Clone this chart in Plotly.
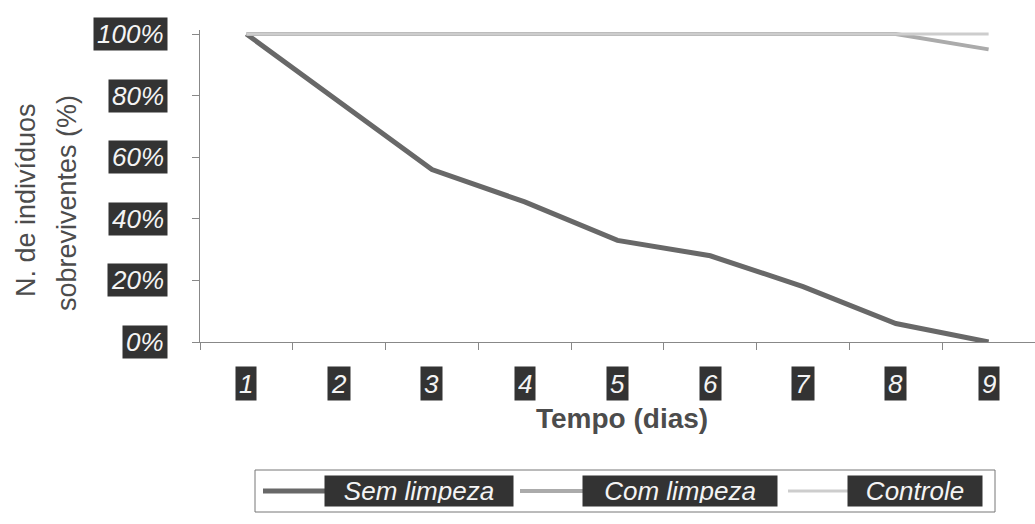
import plotly.graph_objects as go

# ---- data ----
days = ["1", "2", "3", "4", "5", "6", "7", "8", "9"]
sem_limpeza = [1.00, 0.78, 0.56, 0.455, 0.33, 0.28, 0.18, 0.06, 0.00]
com_limpeza = [1.00, 1.00, 1.00, 1.00, 1.00, 1.00, 1.00, 1.00, 0.95]
controle = [1.00, 1.00, 1.00, 1.00, 1.00, 1.00, 1.00, 1.00, 1.00]
series_names = ["Sem limpeza", "Com limpeza", "Controle"]
y_ticks = [0, 0.2, 0.4, 0.6, 0.8, 1.0]
y_tick_labels = ["0%", "20%", "40%", "60%", "80%", "100%"]

colors = ["#686868", "#ababab", "#cdcdcd"]
widths = [5, 4, 3]

W, H = 1035, 524
L, R, T, B = 200, 0, 30, 182
PW, PH = W - L - R, H - T - B


def xp(px):
    return (px - L) / PW


def yp(py):
    return (H - B - py) / PH


fig = go.Figure()
for name, vals, c, w in zip(series_names, [sem_limpeza, com_limpeza, controle], colors, widths):
    fig.add_trace(go.Scatter(x=days, y=vals, mode="lines", name=name,
                             line=dict(color=c, width=w), showlegend=False))

LABEL_FONT = "Liberation Sans, Arial, sans-serif"
box_bg = "#333333"

annotations = []
# x tick labels (dark boxes), placed at the category index on the x axis
for i, d in enumerate(days):
    annotations.append(dict(x=i, xref="x", y=0, yref="paper", yanchor="top", yshift=-24,
                            text=f"<i>{d}</i>", showarrow=False, bgcolor=box_bg, borderpad=3,
                            height=27, font=dict(family=LABEL_FONT, size=26, color="#f4f4f4")))
# y tick labels (dark boxes)
for v, lab in zip(y_ticks, y_tick_labels):
    annotations.append(dict(x=0, xref="paper", xanchor="right", xshift=-32, y=v, yref="y",
                            text=f"<i>{lab}</i>", showarrow=False, bgcolor=box_bg, borderpad=3,
                            height=26, font=dict(family=LABEL_FONT, size=26, color="#f4f4f4")))
# axis titles
annotations.append(dict(x=xp(26), xref="paper", y=yp(200), yref="paper", text="N. de indivíduos",
                        textangle=-90, showarrow=False, xanchor="center", yanchor="middle",
                        font=dict(family=LABEL_FONT, size=27, color="#4c4c4c")))
annotations.append(dict(x=xp(67), xref="paper", y=yp(203), yref="paper", text="sobreviventes (%)",
                        textangle=-90, showarrow=False, xanchor="center", yanchor="middle",
                        font=dict(family=LABEL_FONT, size=27, color="#4c4c4c")))
annotations.append(dict(x=xp(622), xref="paper", y=yp(418), yref="paper", text="<b>Tempo (dias)</b>",
                        showarrow=False, xanchor="center", yanchor="middle",
                        font=dict(family=LABEL_FONT, size=28, color="#4c4c4c")))

# custom legend
shapes = []
leg_y = 491
shapes.append(dict(type="rect", xref="paper", yref="paper", x0=xp(255), x1=xp(995),
                   y0=yp(512), y1=yp(470), line=dict(color="#777777", width=1), fillcolor="white",
                   layer="below"))
leg_lines = [(263, 325), (520, 583), (788, 848)]
leg_boxes = [(325, 513), (583, 777), (848, 982)]
for name, c, w, (a, b), (ba, bb) in zip(series_names, colors, widths, leg_lines, leg_boxes):
    shapes.append(dict(type="line", xref="paper", yref="paper", x0=xp(a), x1=xp(b),
                       y0=yp(leg_y), y1=yp(leg_y), line=dict(color=c, width=w)))
    annotations.append(dict(x=xp((ba + bb) / 2), xref="paper", y=yp(leg_y), yref="paper",
                            text=f"<i>{name}</i>", showarrow=False, bgcolor=box_bg, borderpad=3,
                            width=(bb - ba) - 6, height=24, xanchor="center", yanchor="middle",
                            font=dict(family=LABEL_FONT, size=26, color="#f4f4f4")))

fig.update_layout(
    width=W, height=H,
    margin=dict(l=L, r=R, t=T, b=B),
    paper_bgcolor="white", plot_bgcolor="white",
    xaxis=dict(type="category", range=[-0.5, 8.5], showticklabels=False, ticks="outside",
               tickson="boundaries", ticklen=7, tickcolor="#888888", showline=True,
               linecolor="#888888", linewidth=1, showgrid=False, zeroline=False),
    yaxis=dict(range=[0, 1.013], tickvals=y_ticks, showticklabels=False, ticks="outside",
               ticklen=7, tickcolor="#888888", showline=True, linecolor="#888888", linewidth=1,
               showgrid=False, zeroline=False),
    annotations=annotations,
    shapes=shapes,
    showlegend=False,
)

fig.write_html("out.html", config={"displayModeBar": False},
               post_script="document.body.style.margin='0';")
